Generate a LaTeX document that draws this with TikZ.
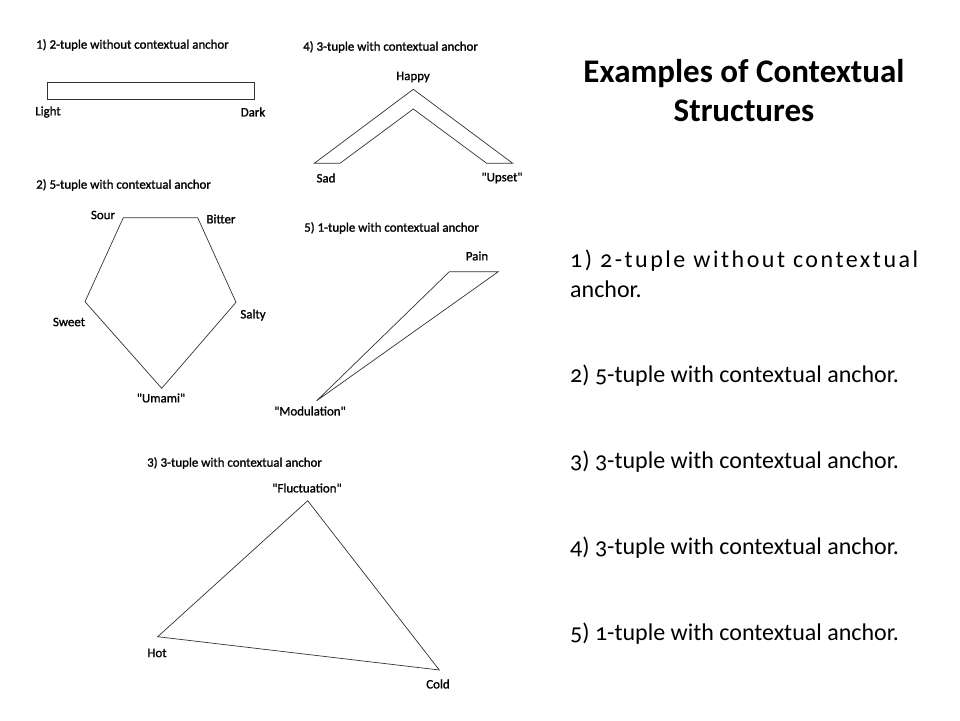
\documentclass[tikz,border=0pt]{standalone}
\usepackage{fontspec}
\setmainfont{Carlito}
\newfontfamily\oldnum[Numbers=OldStyle]{Carlito}
\newfontfamily\lblfont[FakeBold=1.2]{Carlito}
\newcommand\qq{\textquotedbl}
\begin{document}
\begin{tikzpicture}[x=1pt,y=-1pt,
  shapeline/.style={draw=black!80, line width=0.7pt, line join=miter},
  lbl/.style={font=\lblfont\fontsize{12.9}{14}\selectfont, inner sep=0pt},
  ttl/.style={font=\lblfont\fontsize{12.9}{14}\selectfont, inner sep=0pt, anchor=west},
  rtext/.style={font=\oldnum\fontsize{24}{28}\selectfont, inner sep=0pt, anchor=west},
  head/.style={font=\bfseries\fontsize{33}{39}\selectfont, inner sep=0pt, align=center}]
\useasboundingbox (0,0) rectangle (960,720);
\fill[white] (0,0) rectangle (960,720);

% ---- 1) 2-tuple without contextual anchor
\node[ttl] (t1) at (36,45) {1) 2-tuple without contextual anchor};
\node[shapeline, rectangle, minimum width=207pt, minimum height=17pt, inner sep=0pt, anchor=north west] (bar) at (47,82) {};
\node[lbl] (light) at (48,112) {Light};
\node[lbl] (dark) at (253,112) {Dark};

% ---- 4) chevron
\node[ttl] (t4) at (303,47) {4) 3-tuple with contextual anchor};
\coordinate (oa) at (413.3,89.3);
\coordinate (ol) at (314.3,163.3);
\coordinate (il) at (340,163.3);
\coordinate (ia) at (413.3,109);
\coordinate (ir) at (486.7,163.3);
\coordinate (or) at (512.7,163.3);
\draw[shapeline] (oa) -- (ol) -- (il) -- (ia) -- (ir) -- (or) -- cycle;
\node[lbl] (happy) at (413,77) {Happy};
\node[lbl] (sad) at (326,178) {Sad};
\node[lbl] (upset) at (502,178) {\qq Upset\qq};

% ---- 2) pentagon
\node[ttl] (t2) at (36,185) {2) 5-tuple with contextual anchor};
\coordinate (psour) at (123.3,217.7);
\coordinate (pbitter) at (197.7,217.7);
\coordinate (psalty) at (236,302.3);
\coordinate (pumami) at (161.7,388.3);
\coordinate (psweet) at (85,301.7);
\draw[shapeline] (psour) -- (pbitter) -- (psalty) -- (pumami) -- (psweet) -- cycle;
\node[lbl] (sour) at (103,215) {Sour};
\node[lbl] (bitter) at (221,219) {Bitter};
\node[lbl] (salty) at (253,315) {Salty};
\node[lbl] (sweet) at (69,322) {Sweet};
\node[lbl] (umami) at (161,398) {\qq Umami\qq};

% ---- 5) sliver triangle
\node[ttl] (t5) at (304,228) {5) 1-tuple with contextual anchor};
\coordinate (pa) at (449.3,271.7);
\coordinate (pb) at (498.3,271.7);
\coordinate (pm) at (316.7,400.7);
\draw[shapeline] (pa) -- (pb) -- (pm) -- cycle;
\node[lbl] (pain) at (477,256) {Pain};
\node[lbl] (modul) at (310,411) {\qq Modulation\qq};

% ---- 3) triangle
\node[ttl] (t3) at (147,463) {3) 3-tuple with contextual anchor};
\coordinate (tf) at (307.7,500.7);
\coordinate (th) at (157.7,636.7);
\coordinate (tc) at (439.3,670);
\draw[shapeline] (tf) -- (th) -- (tc) -- cycle;
\node[lbl] (fluct) at (307,488) {\qq Fluctuation\qq};
\node[lbl] (hot) at (157,653) {Hot};
\node[lbl] (cold) at (438,684) {Cold};

% ---- right column
\node[head] (heading) at (744,91) {Examples of Contextual\\Structures};
\node[rtext] (r1a) at (570,261) {\addfontfeature{LetterSpace=10.5}1) 2-tuple without contextual};
\node[rtext] (r1b) at (570,289) {anchor.};
\node[rtext] (r2) at (570,376) {2) 5-tuple with contextual anchor.};
\node[rtext] (r3) at (570,462) {3) 3-tuple with contextual anchor.};
\node[rtext] (r4) at (570,548) {4) 3-tuple with contextual anchor.};
\node[rtext] (r5) at (570,634) {5) 1-tuple with contextual anchor.};
\end{tikzpicture}
\end{document}
